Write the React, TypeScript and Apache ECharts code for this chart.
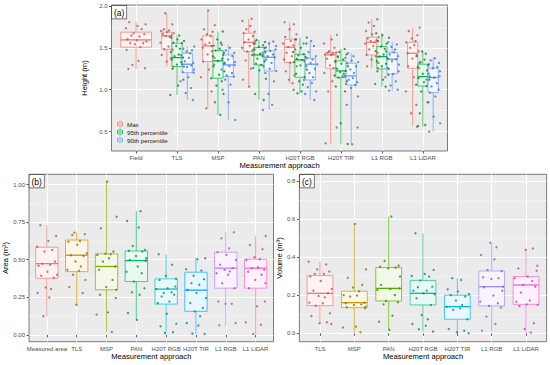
import React, { useEffect, useRef } from 'react';
import * as echarts from 'echarts';

// ---------- Panel (a): height ----------
const CATS_A = ['Field', 'TLS', 'MSP', 'PAN', 'H20T RGB', 'H20T TIR', 'L1 RGB', 'L1 LiDAR'];
const GROUPS_A = ['Max', '95th percentile', '90th percentile'];
const TICKS_A = [0.5, 1.0, 1.5, 2.0];
// box stats: [low whisker, Q1, median, Q3, high whisker]
const BOX_A_MAX = [
  [1.248, 1.507, 1.594, 1.686, 1.805],
  [1.276, 1.483, 1.642, 1.686, 1.912],
  [0.779, 1.336, 1.523, 1.642, 1.944],
  [1.037, 1.455, 1.566, 1.674, 1.845],
  [1.077, 1.324, 1.507, 1.602, 1.805],
  [0.361, 1.256, 1.415, 1.443, 1.654],
  [1.256, 1.415, 1.566, 1.626, 1.84],
  [0.568, 1.256, 1.435, 1.566, 1.741],
];
const BOX_A_P95 = [
  null,
  [0.938, 1.276, 1.383, 1.554, 1.646],
  [0.7, 1.137, 1.344, 1.467, 1.694],
  [0.878, 1.296, 1.415, 1.503, 1.594],
  [0.958, 1.149, 1.356, 1.423, 1.622],
  [0.353, 1.145, 1.224, 1.344, 1.487],
  [1.037, 1.248, 1.395, 1.515, 1.674],
  [0.56, 1.045, 1.157, 1.304, 1.455],
];
const BOX_A_P90 = [
  null,
  [0.878, 1.204, 1.304, 1.435, 1.515],
  [0.64, 1.157, 1.296, 1.415, 1.535],
  [0.759, 1.224, 1.387, 1.463, 1.574],
  [0.878, 1.117, 1.304, 1.375, 1.582],
  [0.35, 1.057, 1.165, 1.316, 1.435],
  [0.99, 1.189, 1.364, 1.443, 1.566],
  [0.5, 0.966, 1.145, 1.256, 1.375],
];
const PTS_A_MAX = [
  [1.805, 1.78, 1.76, 1.733, 1.722, 1.674, 1.662, 1.646, 1.634, 1.602, 1.59, 1.574, 1.554, 1.554, 1.543, 1.507, 1.475, 1.344, 1.296, 1.256, 1.248],
  [1.912, 1.78, 1.72, 1.706, 1.7, 1.686, 1.674, 1.662, 1.65, 1.642, 1.63, 1.56, 1.515, 1.483, 1.475, 1.415, 1.375, 1.336, 1.276],
  [1.944, 1.77, 1.72, 1.69, 1.66, 1.642, 1.6, 1.56, 1.54, 1.523, 1.5, 1.46, 1.42, 1.38, 1.336, 1.3, 1.24, 1.15, 0.98, 0.779],
  [1.845, 1.82, 1.76, 1.72, 1.69, 1.674, 1.64, 1.6, 1.58, 1.566, 1.55, 1.52, 1.5, 1.47, 1.455, 1.42, 1.35, 1.25, 1.12, 1.037],
  [1.805, 1.78, 1.72, 1.66, 1.63, 1.602, 1.58, 1.55, 1.53, 1.507, 1.48, 1.44, 1.4, 1.36, 1.324, 1.28, 1.22, 1.17, 1.12, 1.077],
  [1.654, 1.6, 1.55, 1.5, 1.46, 1.443, 1.44, 1.43, 1.42, 1.415, 1.4, 1.37, 1.33, 1.29, 1.256, 1.2, 1.1, 0.98, 0.55, 0.361],
  [1.84, 1.8, 1.76, 1.7, 1.66, 1.626, 1.61, 1.59, 1.58, 1.566, 1.55, 1.52, 1.48, 1.44, 1.415, 1.4, 1.36, 1.32, 1.28, 1.256],
  [1.741, 1.7, 1.65, 1.61, 1.58, 1.566, 1.53, 1.5, 1.46, 1.435, 1.41, 1.37, 1.32, 1.28, 1.256, 1.15, 0.98, 0.82, 0.72, 0.568],
];
const PTS_A_P95 = [
  [],
  [1.646, 1.62, 1.6, 1.58, 1.56, 1.554, 1.52, 1.49, 1.45, 1.42, 1.4, 1.383, 1.36, 1.33, 1.3, 1.276, 1.25, 1.12, 1.05, 0.938],
  [1.694, 1.6, 1.56, 1.52, 1.49, 1.467, 1.44, 1.4, 1.37, 1.344, 1.32, 1.28, 1.22, 1.18, 1.137, 1.1, 1.05, 0.95, 0.85, 0.7],
  [1.594, 1.57, 1.55, 1.53, 1.51, 1.503, 1.48, 1.45, 1.43, 1.415, 1.4, 1.37, 1.34, 1.31, 1.296, 1.26, 1.23, 1.13, 0.95, 0.878],
  [1.622, 1.6, 1.55, 1.5, 1.45, 1.423, 1.41, 1.39, 1.37, 1.356, 1.33, 1.29, 1.24, 1.19, 1.149, 1.1, 1.06, 1.0, 0.98, 0.958],
  [1.487, 1.45, 1.42, 1.39, 1.36, 1.344, 1.31, 1.28, 1.25, 1.224, 1.21, 1.19, 1.17, 1.16, 1.145, 1.1, 1.04, 0.98, 0.6, 0.353],
  [1.674, 1.65, 1.62, 1.58, 1.55, 1.515, 1.49, 1.46, 1.42, 1.395, 1.37, 1.34, 1.31, 1.28, 1.248, 1.22, 1.18, 1.12, 1.07, 1.037],
  [1.455, 1.43, 1.4, 1.36, 1.33, 1.304, 1.27, 1.23, 1.19, 1.157, 1.14, 1.12, 1.09, 1.06, 1.045, 0.98, 0.85, 0.72, 0.58, 0.56],
];
const PTS_A_P90 = [
  [],
  [1.515, 1.49, 1.47, 1.455, 1.435, 1.41, 1.38, 1.34, 1.32, 1.304, 1.29, 1.27, 1.24, 1.21, 1.204, 1.15, 1.1, 1.02, 0.96, 0.878],
  [1.535, 1.5, 1.47, 1.44, 1.415, 1.4, 1.36, 1.33, 1.31, 1.296, 1.28, 1.24, 1.2, 1.17, 1.157, 1.12, 1.06, 1.0, 0.85, 0.64],
  [1.574, 1.55, 1.52, 1.5, 1.48, 1.463, 1.44, 1.42, 1.4, 1.387, 1.36, 1.32, 1.28, 1.25, 1.224, 1.2, 1.1, 0.95, 0.82, 0.759],
  [1.582, 1.55, 1.52, 1.45, 1.4, 1.375, 1.36, 1.34, 1.32, 1.304, 1.28, 1.25, 1.2, 1.15, 1.117, 1.08, 1.03, 0.98, 0.95, 0.878],
  [1.435, 1.4, 1.38, 1.35, 1.33, 1.316, 1.28, 1.24, 1.2, 1.165, 1.14, 1.12, 1.09, 1.07, 1.057, 1.02, 0.92, 0.82, 0.55, 0.35],
  [1.566, 1.54, 1.51, 1.48, 1.46, 1.443, 1.42, 1.4, 1.38, 1.364, 1.34, 1.3, 1.26, 1.22, 1.189, 1.15, 1.1, 1.05, 1.0, 0.99],
  [1.375, 1.35, 1.32, 1.29, 1.27, 1.256, 1.22, 1.19, 1.16, 1.145, 1.12, 1.08, 1.04, 1.0, 0.966, 0.92, 0.85, 0.68, 0.6, 0.5],
];

// ---------- Panel (b): area ----------
const CATS_B = ['Measured area', 'TLS', 'MSP', 'PAN', 'H20T RGB', 'H20T TIR', 'L1 RGB', 'L1 LiDAR'];
const TICKS_B = [0, 0.25, 0.5, 0.75, 1.0];
const BOX_B = [
  [0.124, 0.377, 0.474, 0.583, 0.73],
  [0.2, 0.421, 0.53, 0.631, 0.68],
  [0.02, 0.3, 0.455, 0.539, 1.02],
  [0.1, 0.355, 0.494, 0.558, 0.823],
  [0.013, 0.205, 0.305, 0.373, 0.536],
  [0.007, 0.157, 0.298, 0.417, 0.51],
  [0.057, 0.311, 0.444, 0.55, 0.682],
  [0.007, 0.311, 0.444, 0.503, 0.658],
];
const PTS_B = [
  [0.73, 0.658, 0.625, 0.587, 0.565, 0.554, 0.488, 0.474, 0.466, 0.46, 0.42, 0.4, 0.393, 0.38, 0.316, 0.305, 0.278, 0.249, 0.124],
  [0.68, 0.67, 0.664, 0.625, 0.62, 0.6, 0.543, 0.53, 0.525, 0.488, 0.455, 0.433, 0.426, 0.4, 0.366, 0.318, 0.278, 0.2],
  [1.02, 0.786, 0.709, 0.554, 0.539, 0.536, 0.532, 0.51, 0.488, 0.455, 0.433, 0.366, 0.318, 0.3, 0.267, 0.245, 0.15, 0.135, 0.02],
  [0.823, 0.757, 0.715, 0.592, 0.565, 0.56, 0.554, 0.525, 0.51, 0.499, 0.494, 0.455, 0.42, 0.41, 0.355, 0.31, 0.283, 0.267, 0.146, 0.1],
  [0.536, 0.466, 0.393, 0.373, 0.366, 0.322, 0.311, 0.305, 0.283, 0.278, 0.267, 0.256, 0.223, 0.212, 0.141, 0.075, 0.057, 0.018, 0.013],
  [0.51, 0.503, 0.437, 0.428, 0.393, 0.371, 0.344, 0.333, 0.3, 0.278, 0.245, 0.212, 0.179, 0.157, 0.124, 0.079, 0.062, 0.009, 0.007],
  [0.682, 0.642, 0.576, 0.55, 0.532, 0.499, 0.466, 0.444, 0.433, 0.422, 0.41, 0.4, 0.344, 0.311, 0.223, 0.207, 0.207, 0.079, 0.064],
  [0.658, 0.598, 0.57, 0.517, 0.503, 0.499, 0.45, 0.444, 0.433, 0.42, 0.4, 0.366, 0.344, 0.311, 0.223, 0.19, 0.084, 0.068, 0.007],
];

// ---------- Panel (c): volume ----------
const CATS_C = ['TLS', 'MSP', 'PAN', 'H20T RGB', 'H20T TIR', 'L1 RGB', 'L1 LiDAR'];
const TICKS_C = [0, 0.2, 0.4, 0.6, 0.8];
const BOX_C = [
  [0.049, 0.145, 0.21, 0.303, 0.376],
  [0.005, 0.135, 0.161, 0.221, 0.578],
  [0.018, 0.17, 0.236, 0.345, 0.613],
  [0.009, 0.149, 0.21, 0.278, 0.525],
  [0.0, 0.074, 0.14, 0.2, 0.289],
  [0.009, 0.144, 0.245, 0.327, 0.476],
  [0.0, 0.152, 0.254, 0.298, 0.446],
];
const PTS_C = [
  [0.376, 0.362, 0.336, 0.324, 0.312, 0.312, 0.298, 0.275, 0.233, 0.224, 0.21, 0.196, 0.189, 0.161, 0.158, 0.145, 0.105, 0.091, 0.058, 0.053, 0.049],
  [0.574, 0.336, 0.292, 0.254, 0.24, 0.221, 0.201, 0.198, 0.193, 0.161, 0.158, 0.152, 0.149, 0.14, 0.137, 0.131, 0.035, 0.03, 0.005],
  [0.613, 0.38, 0.355, 0.35, 0.345, 0.341, 0.298, 0.254, 0.236, 0.233, 0.228, 0.201, 0.17, 0.163, 0.152, 0.093, 0.061, 0.018],
  [0.525, 0.333, 0.312, 0.301, 0.298, 0.278, 0.245, 0.242, 0.224, 0.224, 0.21, 0.205, 0.184, 0.149, 0.096, 0.074, 0.049, 0.04, 0.021, 0.009],
  [0.289, 0.28, 0.231, 0.219, 0.207, 0.201, 0.193, 0.172, 0.149, 0.14, 0.131, 0.123, 0.074, 0.023, 0.014, 0.005, 0.0],
  [0.476, 0.452, 0.411, 0.389, 0.333, 0.327, 0.294, 0.289, 0.285, 0.245, 0.242, 0.224, 0.198, 0.166, 0.158, 0.144, 0.135, 0.088, 0.049, 0.014],
  [0.446, 0.438, 0.355, 0.341, 0.329, 0.298, 0.289, 0.275, 0.254, 0.245, 0.214, 0.172, 0.166, 0.152, 0.149, 0.143, 0.053, 0.023, 0.004],
];

// ---------- styling ----------
const COLORS_A = ['#F8766D', '#00BA38', '#619CFF'];
const COLORS_B = ['#F8766D', '#CD9600', '#7CAE00', '#00BE67', '#00BFC4', '#00A9FF', '#C77CFF', '#FF61CC'];
const COLORS_C = ['#F8766D', '#C49A00', '#53B400', '#00C094', '#00B6EB', '#A58AFF', '#FB61D7'];
// fixed horizontal jitter pattern (fraction of a category width)
const JITTER = [-0.22, 0.31, 0.05, -0.33, 0.18, -0.08, 0.27, -0.15, 0.11, -0.28, 0.02, 0.34, -0.19, 0.23, -0.04, 0.14, -0.31, 0.08, -0.12, 0.29, -0.25, 0.2, -0.01, 0.33];
const FONT = 'Liberation Sans, Arial, Helvetica, sans-serif';

function mix(a: string, b: string, t: number) {
  const pa = [1, 3, 5].map((i) => parseInt(a.slice(i, i + 2), 16));
  const pb = [1, 3, 5].map((i) => parseInt(b.slice(i, i + 2), 16));
  const c = pa.map((v, i) => Math.round(v * (1 - t) + pb[i] * t));
  return 'rgb(' + c.join(',') + ')';
}

function boxSeries(name: string, gi: number, items: number[][], color: string) {
  const fill = mix(color, '#ffffff', 0.91);
  return {
    type: 'custom',
    name,
    xAxisIndex: gi,
    yAxisIndex: gi,
    silent: true,
    z: 2,
    data: items,
    encode: { x: 0, y: 4 },
    renderItem: (params: any, api: any) => {
      const x = api.value(0);
      const hw = api.value(1);
      const lo = api.value(2), q1 = api.value(3), md = api.value(4), q3 = api.value(5), hi = api.value(6);
      const pTL = api.coord([x - hw, q3]);
      const pBR = api.coord([x + hw, q1]);
      const pM = api.coord([x, md]);
      const yHi = api.coord([x, hi])[1];
      const yLo = api.coord([x, lo])[1];
      return {
        type: 'group',
        children: [
          { type: 'line', shape: { x1: pM[0], y1: yHi, x2: pM[0], y2: pTL[1] }, style: { stroke: color, lineWidth: 0.7 } },
          { type: 'line', shape: { x1: pM[0], y1: pBR[1], x2: pM[0], y2: yLo }, style: { stroke: color, lineWidth: 0.7 } },
          { type: 'rect', shape: { x: pTL[0], y: pTL[1], width: pBR[0] - pTL[0], height: pBR[1] - pTL[1] }, style: { fill, stroke: color, lineWidth: 0.7 } },
          { type: 'line', shape: { x1: pTL[0], y1: pM[1], x2: pBR[0], y2: pM[1] }, style: { stroke: color, lineWidth: 1.3 } },
        ],
      };
    },
  };
}

function scatterSeries(name: string, gi: number, data: number[][], color: string) {
  return {
    type: 'scatter',
    name,
    xAxisIndex: gi,
    yAxisIndex: gi,
    silent: true,
    z: 3,
    symbolSize: 2.3,
    itemStyle: { color: mix(color, '#000000', 0.28) },
    data,
  };
}

function xAxisDef(gi: number, cats: string[], gap: number) {
  const vals = cats.map((_, i) => i + 1);
  return {
    type: 'value',
    gridIndex: gi,
    min: 0.4,
    max: cats.length + 0.6,
    minInterval: 1,
    maxInterval: 1,
    name: 'Measurement approach',
    nameLocation: 'middle',
    nameGap: gap,
    nameTextStyle: { fontSize: 7.6, color: '#000', fontFamily: FONT },
    axisLine: { show: false },
    axisTick: { show: true, length: 2.5, lineStyle: { color: '#333', width: 0.8 }, customValues: vals },
    axisLabel: {
      fontSize: 6, color: '#4D4D4D', margin: 4, fontFamily: FONT, customValues: vals,
      formatter: (v: number) => cats[Math.round(v) - 1] ?? '',
    },
    splitLine: { show: true, lineStyle: { color: '#ffffff', width: 1 } },
  };
}

function yAxisDef(gi: number, min: number, max: number, major: number, ticks: number[], dec: number, name: string) {
  return {
    type: 'value',
    gridIndex: gi,
    min,
    max,
    minInterval: major,
    maxInterval: major,
    name,
    nameLocation: 'middle',
    nameGap: 15,
    nameTextStyle: { fontSize: 7.6, color: '#000', fontFamily: FONT },
    axisLine: { show: false },
    axisTick: { show: true, length: 2.5, lineStyle: { color: '#333', width: 0.8 }, customValues: ticks },
    axisLabel: { fontSize: 6, color: '#4D4D4D', margin: 4, fontFamily: FONT, customValues: ticks, formatter: (v: number) => v.toFixed(dec) },
    splitLine: { show: true, lineStyle: { color: '#ffffff', width: 1 } },
    minorTick: { show: false, splitNumber: 2 },
    minorSplitLine: { show: true, lineStyle: { color: '#f6f6f6', width: 0.5 } },
  };
}

function tag(text: string, x: number, y: number) {
  return {
    type: 'text',
    x,
    y,
    z: 10,
    style: {
      text, fontSize: 8.5, fontFamily: FONT, fill: '#000',
      backgroundColor: '#ffffff', borderColor: '#444', borderWidth: 0.7, padding: [2, 2, 1.5, 2],
    },
  };
}

function legendItems(label: string, color: string, yc: number) {
  const fill = mix(color, '#ffffff', 0.91);
  return [
    { type: 'rect', z: 20, shape: { x: 116, y: yc - 3.5, width: 8, height: 7 }, style: { fill: '#F2F2F2' } },
    { type: 'line', z: 21, shape: { x1: 120, y1: yc - 3.5, x2: 120, y2: yc + 3.5 }, style: { stroke: color, lineWidth: 0.7 } },
    { type: 'rect', z: 22, shape: { x: 117.5, y: yc - 2, width: 5, height: 4 }, style: { fill, stroke: color, lineWidth: 0.7 } },
    { type: 'line', z: 23, shape: { x1: 117.5, y1: yc, x2: 122.5, y2: yc }, style: { stroke: color, lineWidth: 0.9 } },
    { type: 'text', z: 23, x: 127, y: yc, style: { text: label, fontSize: 6.2, fontFamily: FONT, fill: '#1a1a1a', verticalAlign: 'middle' } },
  ];
}

export default function App() {
  const ref = useRef<HTMLDivElement>(null);
  useEffect(() => {
    if (!ref.current) return;
    const chart = echarts.init(ref.current, undefined, { renderer: 'svg' });
    const series: any[] = [];

    // panel (a)
    const boxesA = [BOX_A_MAX, BOX_A_P95, BOX_A_P90];
    const ptsA = [PTS_A_MAX, PTS_A_P95, PTS_A_P90];
    const dodge = [-0.25, 0, 0.25];
    GROUPS_A.forEach((g, k) => {
      const items: number[][] = [];
      const pts: number[][] = [];
      boxesA[k].forEach((b, ci) => {
        if (!b) return;
        const single = ci === 0;
        const xc = ci + 1 + (single ? 0 : dodge[k]);
        items.push([xc, single ? 0.375 : 0.125, ...b]);
        ptsA[k][ci].forEach((v, j) => {
          const jit = JITTER[(j + ci * 5 + k * 3) % JITTER.length] * (single ? 0.75 : 0.5);
          pts.push([xc + jit, v]);
        });
      });
      series.push(boxSeries(g, 0, items, COLORS_A[k]));
      series.push(scatterSeries(g, 0, pts, COLORS_A[k]));
    });

    // panel (b)
    CATS_B.forEach((c, ci) => {
      series.push(boxSeries(c, 1, [[ci + 1, 0.375, ...BOX_B[ci]]], COLORS_B[ci]));
      series.push(scatterSeries(c, 1, PTS_B[ci].map((v, j) => [ci + 1 + JITTER[(j + ci * 5) % JITTER.length], v]), COLORS_B[ci]));
    });

    // panel (c)
    CATS_C.forEach((c, ci) => {
      series.push(boxSeries(c, 2, [[ci + 1, 0.375, ...BOX_C[ci]]], COLORS_C[ci]));
      series.push(scatterSeries(c, 2, PTS_C[ci].map((v, j) => [ci + 1 + JITTER[(j + ci * 7 + 3) % JITTER.length], v]), COLORS_C[ci]));
    });

    const gridStyle = { show: true, backgroundColor: '#EBEBEB', borderColor: '#5a5a5a', borderWidth: 0.8 };
    chart.setOption({
      animation: false,
      textStyle: { fontFamily: FONT },
      grid: [
        { left: 111.5, top: 5, width: 336, height: 146, ...gridStyle },
        { left: 29, top: 174.3, width: 244.5, height: 167.4, ...gridStyle },
        { left: 299.4, top: 174.3, width: 247.2, height: 167.4, ...gridStyle },
      ],
      xAxis: [xAxisDef(0, CATS_A, 10), xAxisDef(1, CATS_B, 11), xAxisDef(2, CATS_C, 11)],
      yAxis: [
        yAxisDef(0, 0.27, 2.01, 0.5, TICKS_A, 1, 'Height (m)'),
        yAxisDef(1, -0.045, 1.068, 0.25, TICKS_B, 2, 'Area (m²)'),
        yAxisDef(2, -0.044, 0.835, 0.2, TICKS_C, 1, 'Volume (m³)'),
      ],
      series,
      graphic: [
        tag('(a)', 112, 6),
        tag('(b)', 29.5, 175),
        tag('(c)', 300, 175),
        { type: 'rect', z: 19, shape: { x: 114, y: 119.5, width: 60, height: 25 }, style: { fill: '#EBEBEB' } },
        ...legendItems('Max', COLORS_A[0], 124),
        ...legendItems('95th percentile', COLORS_A[1], 132),
        ...legendItems('90th percentile', COLORS_A[2], 140),
      ],
    });
    return () => chart.dispose();
  }, []);
  return <div ref={ref} style={{ position: 'fixed', left: 0, top: 0, width: 550, height: 365, background: '#fff' }} />;
}
